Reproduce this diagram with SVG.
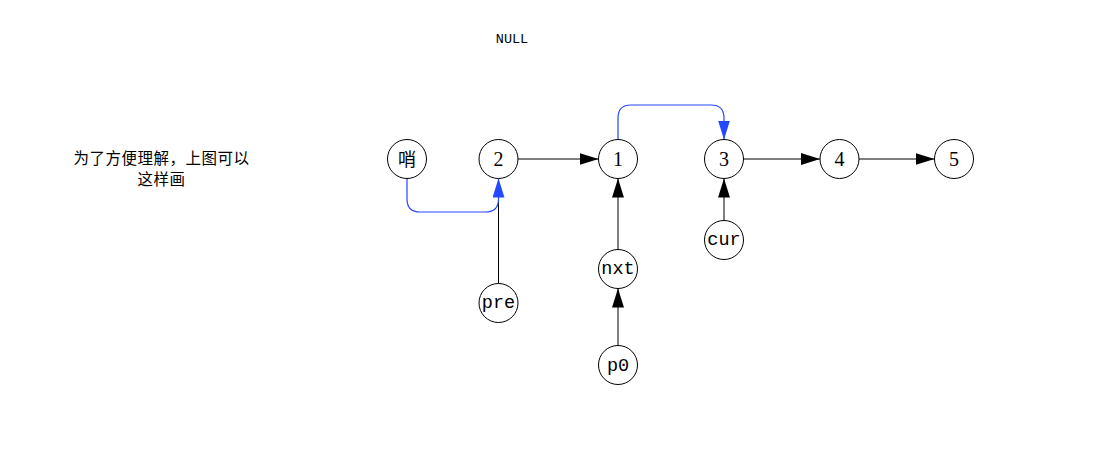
<svg xmlns="http://www.w3.org/2000/svg" width="1099" height="449" viewBox="0 0 1099 449">
<style>
  .node circle { fill: #ffffff; stroke: #000000; stroke-width: 1; }
  .num { font-family: "Liberation Serif", serif; font-size: 20px; text-anchor: middle; fill: #000; }
  .mono { font-family: "Liberation Mono", monospace; font-size: 18.5px; text-anchor: middle; fill: #000; }
  .cjk { font-family: "Noto Sans CJK SC", sans-serif; font-size: 18px; text-anchor: middle; fill: #000; }
  .note { font-family: "Noto Sans CJK SC", sans-serif; font-size: 15.5px; text-anchor: middle; fill: #000; }
  .edge { fill: none; stroke: #000000; stroke-width: 1; }
  .blue { fill: none; stroke: #2448ff; stroke-width: 1.2; }
</style>
<defs>
  <marker id="ab" viewBox="0 0 19 12" refX="19" refY="6" markerUnits="userSpaceOnUse" markerWidth="19" markerHeight="12" orient="auto">
    <path d="M0,0 L19,6 L0,12 z" fill="#000000"/>
  </marker>
  <marker id="abl" viewBox="0 0 19 12" refX="19" refY="6" markerUnits="userSpaceOnUse" markerWidth="19" markerHeight="12" orient="auto">
    <path d="M0,0 L19,6 L0,12 z" fill="#2448ff"/>
  </marker>
</defs>
<rect width="1099" height="449" fill="#ffffff"/>
<text x="512" y="43" font-family="Liberation Mono, monospace" font-size="13.5" text-anchor="middle">NULL</text>
<text class="note" x="161.5" y="164" letter-spacing="0.5">为了方便理解，上图可以</text>
<text class="note" x="161.5" y="185" letter-spacing="0.5">这样画</text>
<g id="connectors">
  <line class="edge" x1="518" y1="159" x2="598.5" y2="159" marker-end="url(#ab)"/>
  <line class="edge" x1="743.5" y1="159" x2="820" y2="159" marker-end="url(#ab)"/>
  <line class="edge" x1="859" y1="159" x2="934.5" y2="159" marker-end="url(#ab)"/>
  <line class="edge" x1="618" y1="249.5" x2="618" y2="178.5" marker-end="url(#ab)"/>
  <line class="edge" x1="618" y1="345.5" x2="618" y2="288.5" marker-end="url(#ab)"/>
  <line class="edge" x1="724" y1="220.5" x2="724" y2="178.5" marker-end="url(#ab)"/>
  <line class="edge" x1="498.5" y1="283.5" x2="498.5" y2="200"/>
  <path class="blue" d="M407,178.5 V199 Q407,212 420,212 H485.5 Q498.5,212 498.5,199 V178.5" marker-end="url(#abl)"/>
  <path class="blue" d="M618,139.5 V118 Q618,105 631,105 H711 Q724,105 724,118 V139.5" marker-end="url(#abl)"/>
</g>
<g id="n-shao" class="node"><circle cx="407" cy="159" r="19.5"/><text class="cjk" x="407" y="165.5">哨</text></g>
<g id="n2" class="node"><circle cx="498.5" cy="159" r="19.5"/><text class="num" x="498.5" y="165.5">2</text></g>
<g id="n1" class="node"><circle cx="618" cy="159" r="19.5"/><text class="num" x="618" y="165.5">1</text></g>
<g id="n3" class="node"><circle cx="724" cy="159" r="19.5"/><text class="num" x="724" y="165.5">3</text></g>
<g id="n4" class="node"><circle cx="839.5" cy="159" r="19.5"/><text class="num" x="839.5" y="165.5">4</text></g>
<g id="n5" class="node"><circle cx="954" cy="159" r="19.5"/><text class="num" x="954" y="165.5">5</text></g>
<g id="n-cur" class="node"><circle cx="724" cy="240" r="19.5"/><text class="mono" x="724" y="245">cur</text></g>
<g id="n-nxt" class="node"><circle cx="618" cy="269" r="19.5"/><text class="mono" x="618" y="274">nxt</text></g>
<g id="n-pre" class="node"><circle cx="498.5" cy="303" r="19.5"/><text class="mono" x="498.5" y="308">pre</text></g>
<g id="n-p0" class="node"><circle cx="618" cy="365" r="19.5"/><text class="mono" x="618" y="371">p0</text></g>
</svg>
